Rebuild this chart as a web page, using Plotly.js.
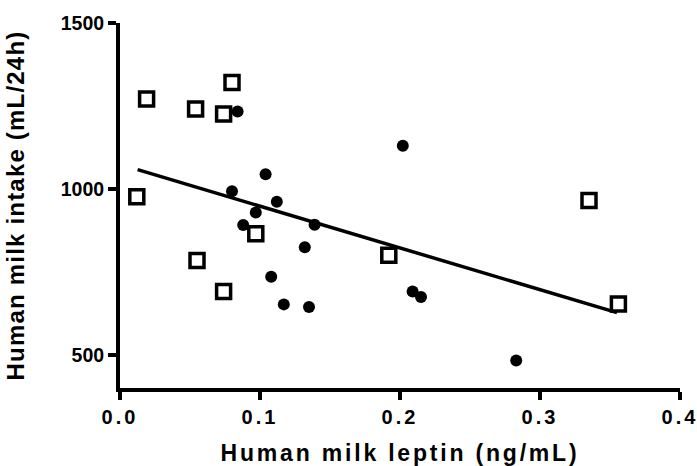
<!DOCTYPE html>
<html>
<head>
<meta charset="utf-8">
<script src="https://cdn.plot.ly/plotly-3.0.1.min.js"></script>
<style>
html,body{margin:0;padding:0;background:#fff;}
#chart{width:697px;height:466px;}
#chart text.xtitle{letter-spacing:2.8px;}
#chart text.ytitle{letter-spacing:1.2px;}
#chart g.xtick text{letter-spacing:3px;font-weight:bold !important;}
#chart g.ytick text{font-weight:bold !important;}
</style>
</head>
<body>
<div id="chart"></div>
<script>
// Open squares group
const squareLeptin = [0.012, 0.019, 0.054, 0.074, 0.080, 0.055, 0.074, 0.097, 0.192, 0.335, 0.356];
const squareIntake = [976, 1271, 1241, 1226, 1321, 784, 691, 865, 800, 965, 653];
// Filled circles group
const dotLeptin = [0.084, 0.104, 0.080, 0.112, 0.097, 0.088, 0.139, 0.132, 0.108, 0.117, 0.135, 0.202, 0.209, 0.215, 0.283];
const dotIntake = [1233, 1044, 993, 961, 929, 891, 892, 824, 735, 652, 644, 1130, 691, 674, 483];
// Regression line endpoints
const fitLeptin = [0.0126, 0.355];
const fitIntake = [1058, 627];

const xTicks = [0, 0.1, 0.2, 0.3, 0.4];
const xTickText = ['0.0', '0.1', '0.2', '0.3', '0.4'];
const yTicks = [500, 1000, 1500];
const yTickText = ['500', '1000', '1500'];

const FAM = 'Liberation Sans, Arial, sans-serif';

const traces = [
  {x: fitLeptin, y: fitIntake, mode: 'lines', line: {color: '#000', width: 3.5}, hoverinfo: 'skip'},
  {x: dotLeptin, y: dotIntake, mode: 'markers', marker: {symbol: 'circle', size: 12, color: '#000'}},
  {x: squareLeptin, y: squareIntake, mode: 'markers', marker: {symbol: 'square-open', size: 14, color: '#000', line: {width: 3.5, color: '#000'}}}
];

const layout = {
  width: 697, height: 466,
  margin: {l: 120, r: 17, t: 23, b: 78, pad: 0},
  showlegend: false,
  paper_bgcolor: '#fff', plot_bgcolor: '#fff',
  font: {family: FAM, size: 18, color: '#000'},
  xaxis: {
    range: [0, 0.4], tickvals: xTicks, ticktext: xTickText,
    showline: true, linewidth: 4, linecolor: '#000', mirror: false,
    ticks: 'outside', ticklen: 8, tickwidth: 4, tickcolor: '#000',
    showgrid: false, zeroline: false,
    tickfont: {family: FAM, size: 20, color: '#000', weight: 'bold'},
    title: {text: '<b>Human milk leptin (ng/mL)</b>', font: {family: FAM, size: 23, color: '#000'}, standoff: 28}
  },
  yaxis: {
    range: [400, 1500], tickvals: yTicks, ticktext: yTickText,
    showline: true, linewidth: 4, linecolor: '#000', mirror: false,
    ticks: 'outside', ticklen: 8, tickwidth: 4, tickcolor: '#000',
    showgrid: false, zeroline: false,
    tickfont: {family: FAM, size: 19.5, color: '#000', weight: 'bold'},
    title: {text: '<b>Human milk intake (mL/24h)</b>', font: {family: FAM, size: 24, color: '#000'}, standoff: 30}
  }
};

Plotly.newPlot('chart', traces, layout, {displayModeBar: false, staticPlot: true}).then(function () {
  document.querySelectorAll('#chart g.xtick text, #chart g.ytick text').forEach(function (t) { t.getBBox(); });
});
</script>
</body>
</html>
